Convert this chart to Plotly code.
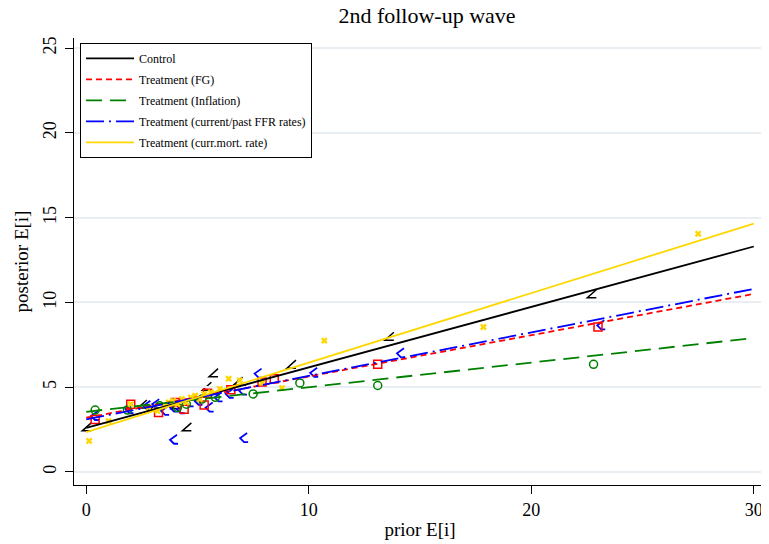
import plotly.graph_objects as go

# ---------------- data ----------------
ctrl_x = [0.0, 2.5, 3.0, 4.0, 4.5, 5.4, 5.7, 6.8, 9.2, 13.6, 22.7]
ctrl_y = [2.6, 3.95, 3.8, 3.9, 2.6, 5.0, 5.8, 5.3, 6.3, 7.95, 10.45]

fg_x = [0.4, 2.0, 3.25, 4.0, 4.4, 5.3, 5.45, 6.5, 7.9, 8.45, 13.1, 23.0]
fg_y = [3.1, 4.0, 3.5, 4.1, 3.7, 3.95, 4.65, 4.85, 5.3, 5.5, 6.35, 8.55]

inf_x = [0.4, 1.85, 3.3, 4.1, 4.5, 5.2, 5.8, 7.5, 9.6, 13.1, 22.8]
inf_y = [3.65, 3.65, 3.9, 3.8, 4.0, 4.3, 4.4, 4.6, 5.25, 5.1, 6.35]

ffr_x = [0.35, 1.9, 2.7, 3.1, 3.5, 3.9, 4.2, 4.6, 5.0, 5.5, 5.9, 6.4, 7.0,
         3.9, 7.05, 7.7, 10.2, 14.1, 23.1]
ffr_y = [3.3, 3.7, 3.9, 4.0, 3.6, 3.8, 3.7, 4.1, 4.2, 3.8, 4.4, 4.6, 4.8,
         1.9, 2.0, 5.8, 5.85, 7.0, 8.65]

mort_x = [0.13, 1.0, 2.0, 2.8, 3.2, 3.5, 3.7, 3.9, 4.1, 4.3, 4.5, 4.7, 4.9,
          5.1, 5.3, 5.6, 6.0, 6.4, 6.9, 7.9, 8.8, 10.7, 17.85, 27.5]
mort_y = [1.83, 3.0, 4.0, 3.8, 3.6, 3.9, 4.1, 4.2, 4.0, 4.3, 4.1, 4.4, 4.5,
          4.3, 4.6, 4.7, 4.9, 5.5, 5.4, 5.25, 4.95, 7.75, 8.55, 14.05]

# fitted lines (endpoints)
fit_x = [0, 30]
fit_ctrl = [2.6, 13.3]
fit_fg = [3.2, 10.5]
fit_inf = [3.55, 7.9]
fit_ffr = [3.1, 10.8]
fit_mort = [2.35, 14.65]

names = ["Control", "Treatment (FG)", "Treatment (Inflation)",
         "Treatment (current/past FFR rates)", "Treatment (curr.mort. rate)"]

x_ticks = [0, 10, 20, 30]
y_ticks = [0, 5, 10, 15, 20, 25]

# ---------------- figure ----------------
BLACK, RED, GREEN, BLUE, GOLD = "#000000", "#ff0000", "#008000", "#0000ff", "#ffd700"
fig = go.Figure()

# arrow-like marker glyphs (pixel-sized paths anchored at the data points)
CTRL_GLYPH = "M 5,5 L -4,-3 L 5,-3"
FFR_GLYPH = "M 4,5 L -3,0 L 1,-4 L 5,-4"


def add_glyphs(xs, ys, path, color, width):
    for xv, yv in zip(xs, ys):
        fig.add_shape(type="path", xref="x", yref="y",
                      xsizemode="pixel", ysizemode="pixel", xanchor=xv, yanchor=yv,
                      path=path, line=dict(color=color, width=width), layer="below")


add_glyphs(ctrl_x, ctrl_y, CTRL_GLYPH, BLACK, 1.5)
fig.add_trace(go.Scatter(x=fg_x, y=fg_y, mode="markers",
                         marker=dict(symbol="square-open", size=8, color=RED, line=dict(width=1.5)),
                         showlegend=False))
fig.add_trace(go.Scatter(x=inf_x, y=inf_y, mode="markers",
                         marker=dict(symbol="circle-open", size=8, color=GREEN, line=dict(width=1.5)),
                         showlegend=False))
add_glyphs(ffr_x, ffr_y, FFR_GLYPH, BLUE, 1.8)
fig.add_trace(go.Scatter(x=mort_x, y=mort_y, mode="markers",
                         marker=dict(symbol="x", size=6, color=GOLD, line=dict(width=0)),
                         showlegend=False))

# fitted lines
styles = [
    (fit_ctrl, BLACK, "solid"),
    (fit_fg, RED, "6px,4px"),
    (fit_inf, GREEN, "16px,8px"),
    (fit_ffr, BLUE, "18px,5px,2px,5px"),
    (fit_mort, GOLD, "solid"),
]
for i, ((fy, col, dash), nm) in enumerate(zip(styles, names)):
    fig.add_trace(go.Scatter(x=fit_x, y=fy, mode="lines", name=nm, legendgroup=f"g{i}",
                             line=dict(color=col, width=1.8, dash=dash)))

font_family = "Liberation Serif, Times New Roman, serif"
# the page places the figure 8px from the top-left corner, so sizes compensate
fig.update_layout(
    width=761, height=536,
    margin=dict(l=66, r=3, t=30, b=59),
    paper_bgcolor="white", plot_bgcolor="white",
    font=dict(family=font_family, color="black"),
    title=dict(text="2nd follow-up wave", x=0.5506, xanchor="center", y=1.0, yanchor="top",
               font=dict(size=22, family=font_family), pad=dict(t=0, b=0)),
    showlegend=True,
    legend=dict(x=0.0087, y=0.989, xanchor="left", yanchor="top",
                bgcolor="white", bordercolor="black", borderwidth=1,
                font=dict(size=12, family=font_family), itemwidth=48,
                traceorder="grouped", tracegroupgap=2),
    xaxis=dict(range=[-0.55, 30.55], tickvals=x_ticks, ticktext=[str(v) for v in x_ticks],
               showgrid=False, zeroline=False, showline=True, linecolor="black", linewidth=1,
               ticks="outside", ticklen=8, tickcolor="black",
               tickfont=dict(size=18), title=dict(text="prior E[i]", font=dict(size=19), standoff=4)),
    yaxis=dict(range=[-0.77, 25.6], tickvals=y_ticks, ticktext=[str(v) for v in y_ticks],
               showgrid=True, gridcolor="#e8eef1", gridwidth=1.5, zeroline=False,
               showline=True, linecolor="black", linewidth=1,
               ticks="outside", ticklen=8, tickcolor="black", tickangle=-90,
               ticklabelstandoff=2,
               tickfont=dict(size=18), title=dict(text="posterior E[i]", font=dict(size=19), standoff=6)),
)

fig.write_html("out.html")
